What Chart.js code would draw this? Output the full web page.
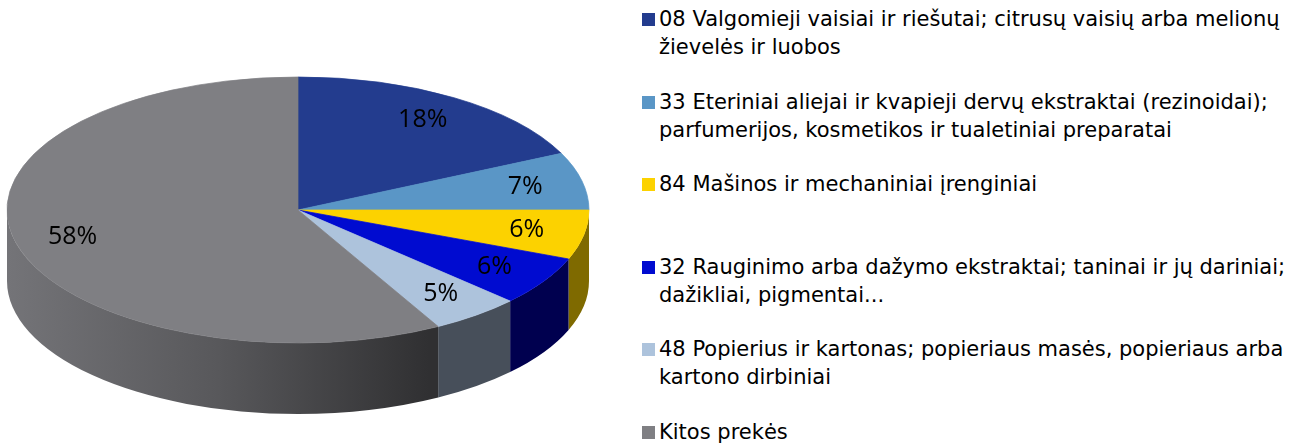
<!DOCTYPE html>
<html>
<head>
<meta charset="utf-8">
<script src="https://cdn.jsdelivr.net/npm/chart.js@4.4.1/dist/chart.umd.min.js"></script>
<style>
    html, body { margin: 0; padding: 0; background: #fff; width: 1303px; height: 446px; overflow: hidden; }
    #pieCanvas { position: absolute; left: 0; top: 0; }
    #legend { position: absolute; left: 642px; top: 0; font-family: "DejaVu Sans", sans-serif; font-size: 21px; color: #000; }
    .item { position: absolute; left: 0; white-space: nowrap; line-height: 28px; }
    .box { position: absolute; left: 0; top: 8px; width: 13px; height: 13px; }
    .txt { position: absolute; left: 17px; top: 0; }
</style>
</head>
<body>
<canvas id="pieCanvas" width="640" height="620"></canvas>
<div id="legend"></div>
<script>
// chart data
const categories = [
    ['08 Valgomieji vaisiai ir riešutai; citrusų vaisių arba melionų', 'žievelės ir luobos'],
    ['33 Eteriniai aliejai ir kvapieji dervų ekstraktai (rezinoidai);', 'parfumerijos, kosmetikos ir tualetiniai preparatai'],
    ['84 Mašinos ir mechaniniai įrenginiai'],
    ['32 Rauginimo arba dažymo ekstraktai; taninai ir jų dariniai;', 'dažikliai, pigmentai...'],
    ['48 Popierius ir kartonas; popieriaus masės, popieriaus arba', 'kartono dirbiniai'],
    ['Kitos prekės']
];
const shares = [18, 7, 6, 6, 5, 58];
const topColors = ['#233c8e', '#5a96c6', '#fcd200', '#000bd0', '#adc3dc', '#7f7f83'];
const sideColors = ['#112060', '#2f5f8a', '#7f6a00', '#00004f', '#474f5a', null];

// layout of the tilted pie (screen pixels)
const CENTER_X = 298;
const CENTER_Y = 210;
const TILT_RY = 133;
const DEPTH = 71;
const LABEL_R = 0.8;
const LEGEND_TOP = 5;
const LEGEND_STEP = 82.6;

function sideFill(ctx, i, x, r) {
    if (sideColors[i]) return sideColors[i];
    const g = ctx.createLinearGradient(x - r, 0, x + r * 0.45, 0);
    g.addColorStop(0, '#747478');
    g.addColorStop(0.5, '#58585b');
    g.addColorStop(1, '#303032');
    return g;
}

const pie3d = {
    id: 'pie3d',
    beforeDatasetsDraw(chart) {
        const ctx = chart.ctx;
        const meta = chart.getDatasetMeta(0);
        const { x, y, outerRadius } = meta.data[0].getProps(['x', 'y', 'outerRadius'], true);
        const k = TILT_RY / outerRadius;
        ctx.save();
        ctx.translate(CENTER_X, CENTER_Y);
        ctx.scale(1, k);
        ctx.translate(-x, -y);
        const d = DEPTH / k;
        meta.data.forEach((arc, i) => {
            const p = arc.getProps(['startAngle', 'endAngle'], true);
            const a0 = Math.max(p.startAngle, 0);
            const a1 = Math.min(p.endAngle, Math.PI);
            if (a1 <= a0) return;
            ctx.beginPath();
            ctx.arc(x, y, outerRadius, a0, a1);
            ctx.arc(x, y + d, outerRadius, a1, a0, true);
            ctx.closePath();
            ctx.fillStyle = sideFill(ctx, i, x, outerRadius);
            ctx.fill();
        });
    },
    afterDatasetsDraw(chart) {
        const ctx = chart.ctx;
        ctx.restore();
        const meta = chart.getDatasetMeta(0);
        const total = shares.reduce((a, b) => a + b, 0);
        ctx.save();
        ctx.font = '25px "Open Sans", sans-serif';
        ctx.fillStyle = '#000';
        ctx.textAlign = 'center';
        ctx.textBaseline = 'middle';
        meta.data.forEach((arc, i) => {
            const p = arc.getProps(['x', 'y', 'startAngle', 'endAngle', 'outerRadius'], true);
            const k = TILT_RY / p.outerRadius;
            const mid = (p.startAngle + p.endAngle) / 2;
            const lx = CENTER_X + Math.cos(mid) * p.outerRadius * LABEL_R;
            const ly = CENTER_Y + Math.sin(mid) * p.outerRadius * LABEL_R * k;
            ctx.fillText(Math.round(shares[i] / total * 100) + '%', lx, ly);
        });
        ctx.restore();
    }
};

new Chart(document.getElementById('pieCanvas'), {
    type: 'pie',
    data: {
        labels: categories.map(c => c.join(' ')),
        datasets: [{
            data: shares,
            backgroundColor: topColors,
            borderColor: topColors,
            borderWidth: 1,
            radius: 291,
            clip: false
        }]
    },
    options: {
        responsive: false,
        animation: false,
        events: [],
        plugins: {
            legend: { display: false },
            tooltip: { enabled: false }
        }
    },
    plugins: [pie3d]
});

// legend
const legendDiv = document.getElementById('legend');
categories.forEach((lines, i) => {
    const item = document.createElement('div');
    item.className = 'item';
    item.style.top = (LEGEND_TOP + i * LEGEND_STEP) + 'px';
    item.innerHTML = `<div class="box" style="background:${topColors[i]}"></div>` +
        `<div class="txt">${lines.join('<br>')}</div>`;
    legendDiv.appendChild(item);
});
</script>
</body>
</html>
